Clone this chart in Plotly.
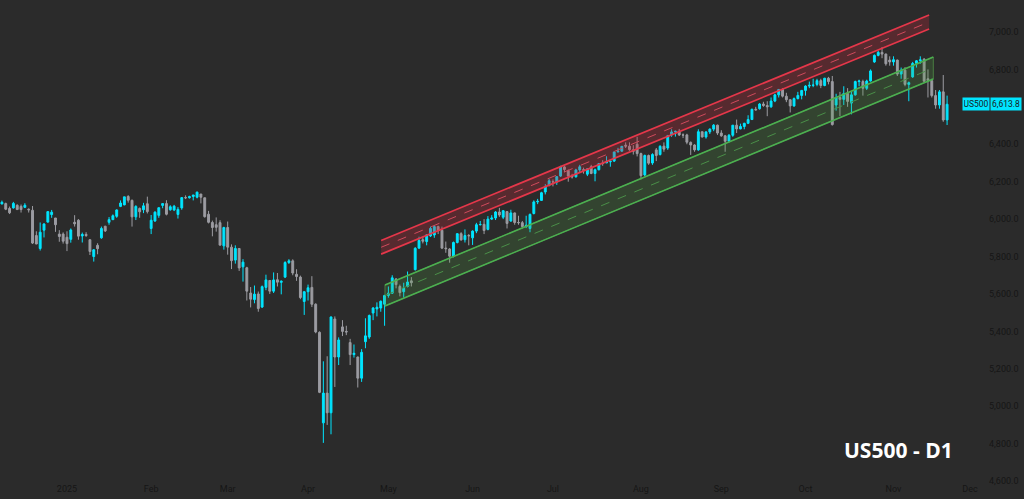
import pandas as pd
import plotly.graph_objects as go

# ---------------- data (US500 CFD, daily) ----------------
closed_days = ["2024-12-25", "2025-01-01", "2025-04-18"]
start_date, end_date = "2024-12-06", "2025-11-21"

open_ = [
    # Dec 2024
    6081, 6083, 6057, 6060, 6074, 6068, 6063, 6053, 6047, 5912, 5843, 5941, 5984, 6024, 6006, 5920, 5920,
    # Jan
    5903, 5892, 5983, 5994, 5910, 5918, 5890, 5800, 5860, 5900, 5962, 5983, 5997, 6015, 6068, 6076, 6121, 6100, 6012, 6057, 6050, 6082,
    # Feb
    5950, 5990, 6020, 6073, 6083, 6050, 6049, 6025, 6060, 6115, 6114, 6121, 6117, 6134, 6114, 6026, 5982, 5970, 5981, 5857,
    # Mar
    5955, 5850, 5781, 5843, 5745, 5740, 5605, 5570, 5600, 5530, 5635, 5672, 5615, 5676, 5662, 5690, 5768, 5777, 5705, 5690, 5560,
    # Apr
    5612, 5635, 5545, 5395, 4911, 5070, 4965, 5466, 5263, 5424, 5400, 5340, 5276, 5263, 5150, 5345, 5370, 5498, 5520, 5525, 5545,
    # May
    5592, 5604, 5680, 5640, 5612, 5640, 5670, 5730, 5845, 5890, 5880, 5910, 5915, 5960, 5940, 5845, 5840, 5800, 5875, 5922, 5890, 5912,
    # Jun
    5900, 5936, 5970, 5972, 5945, 6000, 6006, 6038, 6010, 6040, 5990, 6033, 5982, 5981, 5960, 5950, 6030, 6092, 6100, 6145, 6180,
    # Jul
    6200, 6198, 6230, 6279, 6260, 6230, 6226, 6263, 6265, 6240, 6280, 6244, 6264, 6300, 6300, 6306, 6310, 6360, 6363, 6395, 6390, 6371, 6400,
    # Aug
    6350, 6236, 6340, 6300, 6370, 6345, 6390, 6380, 6450, 6466, 6470, 6450, 6450, 6410, 6396, 6370, 6467, 6439, 6466, 6481, 6502,
    # Sep
    6460, 6445, 6416, 6448, 6502, 6482, 6495, 6512, 6532, 6587, 6590, 6615, 6607, 6600, 6631, 6664, 6693, 6657, 6638, 6605, 6644, 6661,
    # Oct
    6688, 6711, 6715, 6720, 6740, 6714, 6753, 6735, 6610, 6650, 6640, 6671, 6620, 6664, 6735, 6735, 6699, 6738, 6840, 6875, 6891, 6882, 6850,
    # Nov
    6840, 6850, 6775, 6796, 6720, 6760, 6832, 6846, 6855, 6750, 6740, 6660, 6610, 6680, 6530,
]
high = [
    6099, 6088, 6067, 6092, 6079, 6078, 6085, 6057, 6070, 5935, 5982, 5978, 6040, 6049, 6006, 5941, 5929,
    5935, 5950, 6021, 6000, 5928, 5930, 5890, 5840, 5871, 5960, 5964, 6011, 6025, 6052, 6100, 6119, 6128, 6105, 6074, 6062, 6087, 6120,
    6022, 6042, 6062, 6084, 6101, 6074, 6076, 6064, 6116, 6127, 6125, 6129, 6147, 6134, 6114, 6044, 5992, 6009, 5994, 5959,
    5987, 5865, 5860, 5845, 5786, 5745, 5637, 5645, 5613, 5645, 5703, 5674, 5715, 5712, 5672, 5775, 5786, 5785, 5732, 5698, 5615,
    5650, 5695, 5550, 5400, 5240, 5267, 5480, 5480, 5368, 5460, 5430, 5360, 5330, 5265, 5305, 5470, 5490, 5530, 5555, 5565, 5595,
    5640, 5700, 5684, 5650, 5660, 5720, 5690, 5850, 5906, 5906, 5920, 5960, 5968, 5965, 5960, 5880, 5845, 5880, 5925, 5930, 5945, 5920,
    5940, 5980, 5990, 6000, 6016, 6021, 6043, 6060, 6048, 6040, 6050, 6035, 6018, 5990, 6018, 6030, 6100, 6108, 6146, 6187, 6215,
    6212, 6230, 6285, 6285, 6265, 6242, 6269, 6290, 6275, 6272, 6290, 6270, 6300, 6315, 6336, 6310, 6360, 6381, 6390, 6410, 6410, 6395, 6440,
    6355, 6345, 6345, 6352, 6380, 6395, 6410, 6450, 6480, 6473, 6482, 6458, 6456, 6415, 6400, 6480, 6467, 6470, 6485, 6508, 6505,
    6475, 6450, 6455, 6503, 6532, 6510, 6515, 6555, 6590, 6600, 6620, 6627, 6630, 6650, 6670, 6695, 6700, 6675, 6640, 6650, 6680, 6690,
    6715, 6735, 6750, 6750, 6750, 6755, 6760, 6765, 6670, 6680, 6710, 6700, 6680, 6740, 6745, 6745, 6745, 6800, 6880, 6900, 6920, 6885, 6870,
    6870, 6852, 6810, 6812, 6735, 6840, 6850, 6870, 6860, 6800, 6750, 6690, 6690, 6770, 6660,
]
low = [
    6079, 6048, 6027, 6056, 6051, 6035, 6059, 6035, 5867, 5866, 5832, 5902, 5981, 6007, 5932, 5879, 5869,
    5829, 5874, 5960, 5890, 5875, 5905, 5808, 5773, 5812, 5895, 5931, 5970, 5995, 6007, 6064, 6074, 6088, 5960, 5995, 6007, 6032, 6030,
    5920, 5985, 6007, 6058, 6020, 6045, 6043, 6003, 6050, 6107, 6110, 6100, 6111, 6084, 6008, 5977, 5908, 5933, 5858, 5837,
    5810, 5733, 5762, 5723, 5666, 5565, 5528, 5550, 5505, 5525, 5620, 5600, 5605, 5640, 5598, 5685, 5760, 5700, 5670, 5572, 5488,
    5565, 5530, 5390, 5070, 4804, 4900, 4850, 5103, 5220, 5375, 5380, 5220, 5260, 5100, 5130, 5310, 5360, 5460, 5480, 5505, 5430,
    5580, 5600, 5630, 5587, 5580, 5635, 5640, 5725, 5840, 5870, 5860, 5905, 5900, 5920, 5840, 5820, 5767, 5795, 5870, 5885, 5875, 5860,
    5862, 5925, 5966, 5920, 5940, 5995, 5995, 6012, 6000, 5950, 5985, 5970, 5970, 5950, 5952, 5930, 6025, 6080, 6098, 6132, 6175,
    6175, 6183, 6225, 6250, 6200, 6217, 6222, 6250, 6243, 6230, 6240, 6202, 6260, 6285, 6300, 6280, 6305, 6355, 6360, 6380, 6365, 6345, 6335,
    6212, 6230, 6290, 6290, 6310, 6340, 6360, 6370, 6440, 6441, 6444, 6433, 6400, 6343, 6360, 6365, 6436, 6430, 6455, 6470, 6450,
    6440, 6360, 6410, 6440, 6460, 6480, 6480, 6508, 6530, 6580, 6585, 6600, 6550, 6595, 6625, 6650, 6650, 6625, 6570, 6600, 6640, 6640,
    6660, 6700, 6705, 6710, 6700, 6710, 6720, 6500, 6580, 6550, 6610, 6600, 6560, 6660, 6710, 6660, 6690, 6735, 6835, 6870, 6860, 6820, 6820,
    6820, 6765, 6750, 6710, 6630, 6755, 6810, 6830, 6730, 6650, 6650, 6590, 6590, 6520, 6503,
]
close = [
    6090, 6053, 6034, 6084, 6051, 6051, 6074, 6050, 5872, 5867, 5930, 5974, 6040, 6037, 5970, 5907, 5882,
    5869, 5942, 5975, 5909, 5918, 5912, 5827, 5836, 5842, 5950, 5937, 5997, 6018, 6049, 6086, 6119, 6101, 6012, 6068, 6039, 6071, 6040,
    5994, 6037, 6061, 6083, 6026, 6066, 6069, 6052, 6115, 6114, 6120, 6129, 6144, 6117, 6013, 5983, 5955, 5956, 5861, 5955,
    5850, 5778, 5843, 5739, 5770, 5615, 5572, 5599, 5522, 5639, 5675, 5615, 5675, 5663, 5668, 5768, 5777, 5712, 5693, 5581, 5612,
    5633, 5545, 5397, 5074, 5070, 4965, 5477, 5263, 5354, 5400, 5397, 5276, 5283, 5150, 5288, 5376, 5485, 5525, 5529, 5561, 5592,
    5604, 5686, 5650, 5607, 5631, 5664, 5660, 5844, 5886, 5882, 5916, 5950, 5960, 5940, 5845, 5842, 5802, 5875, 5922, 5889, 5912, 5911,
    5936, 5970, 5971, 5939, 6000, 6006, 6038, 6022, 6045, 5977, 6033, 5982, 5981, 5960, 5967, 6025, 6092, 6095, 6141, 6173, 6205,
    6198, 6227, 6279, 6265, 6230, 6226, 6263, 6280, 6260, 6269, 6244, 6264, 6297, 6297, 6306, 6309, 6359, 6363, 6389, 6390, 6371, 6362, 6350,
    6232, 6340, 6299, 6345, 6340, 6389, 6374, 6446, 6466, 6469, 6450, 6449, 6411, 6396, 6370, 6467, 6439, 6466, 6481, 6502, 6460,
    6445, 6416, 6448, 6502, 6482, 6495, 6512, 6532, 6587, 6584, 6615, 6607, 6600, 6631, 6664, 6693, 6657, 6638, 6605, 6644, 6661, 6688,
    6711, 6715, 6716, 6740, 6714, 6753, 6735, 6505, 6650, 6640, 6671, 6629, 6664, 6735, 6738, 6699, 6738, 6792, 6875, 6891, 6882, 6830, 6840,
    6852, 6775, 6796, 6720, 6729, 6832, 6846, 6851, 6737, 6740, 6660, 6610, 6680, 6530, 6613.8,
]

month_labels = ["2025", "Feb", "Mar", "Apr", "May", "Jun", "Jul", "Aug", "Sep", "Oct", "Nov", "Dec"]
# the 6,600.0 tick sits behind the price label in the reference, so it is not listed
y_ticks = [4600, 4800, 5000, 5200, 5400, 5600, 5800, 6000, 6200, 6400, 6800, 7000]

# channels (bar index, price)
red_x = [99.1, 242.3]
red_upper = [5886, 7091]
red_lower = [5813, 7016]
green_x = [100.1, 243.4]
green_upper = [5648, 6866]
green_lower = [5536, 6749]

symbol = "US500"
last_price = 6613.8
title_text = "US500 - D1"

# ---------------- build ----------------
cal = pd.bdate_range(start_date, "2025-12-31")
cal = cal[~cal.isin(pd.to_datetime(closed_days))]
dates = cal[cal <= pd.Timestamp(end_date)]
n = len(dates)
assert n == len(open_) == len(high) == len(low) == len(close), (n, len(open_), len(high), len(low), len(close))
xs = list(range(n))

tick_idx = []
for m in range(1, 13):
    pos = [i for i, d in enumerate(cal) if d.year == 2025 and d.month == m]
    tick_idx.append(pos[0])

BG = "#2b2b2b"
CYAN = "#00e5ff"
GRAY = "#9c9ca2"
AXIS_TXT = "#161616"

fig = go.Figure()

# red channel
fig.add_trace(go.Scatter(
    x=[red_x[0], red_x[1], red_x[1], red_x[0], red_x[0]],
    y=[red_upper[0], red_upper[1], red_lower[1], red_lower[0], red_upper[0]],
    mode="lines", fill="toself", fillcolor="rgba(190,40,55,0.30)",
    line=dict(width=0), hoverinfo="skip"))
for yy in (red_upper, red_lower):
    fig.add_trace(go.Scatter(x=red_x, y=yy, mode="lines",
                             line=dict(color="#e5374a", width=1.7), hoverinfo="skip"))
fig.add_trace(go.Scatter(x=red_x, y=[(a + b) / 2 for a, b in zip(red_upper, red_lower)],
                         mode="lines", line=dict(color="#cf4a5c", width=1, dash="dash"),
                         hoverinfo="skip"))

# green channel
fig.add_trace(go.Scatter(
    x=[green_x[0], green_x[1], green_x[1], green_x[0], green_x[0]],
    y=[green_upper[0], green_upper[1], green_lower[1], green_lower[0], green_upper[0]],
    mode="lines", fill="toself", fillcolor="rgba(80,160,70,0.22)",
    line=dict(width=1, color="rgba(90,170,80,0.6)"), hoverinfo="skip"))
for yy in (green_upper, green_lower):
    fig.add_trace(go.Scatter(x=green_x, y=yy, mode="lines",
                             line=dict(color="#4caf50", width=1.6), hoverinfo="skip"))
fig.add_trace(go.Scatter(x=green_x, y=[(a + b) / 2 for a, b in zip(green_upper, green_lower)],
                         mode="lines", line=dict(color="#4a8f48", width=1, dash="dash"),
                         hoverinfo="skip"))

# candles
fig.add_trace(go.Candlestick(
    x=xs, open=open_, high=high, low=low, close=close,
    increasing=dict(line=dict(color=CYAN, width=1), fillcolor=CYAN),
    decreasing=dict(line=dict(color=GRAY, width=1), fillcolor=GRAY),
    whiskerwidth=0, hoverinfo="skip"))

# price label (two adjoining boxes)
fig.add_annotation(xref="paper", yref="y", x=962 / 980, y=last_price, xanchor="left",
                   text=symbol, showarrow=False, width=24, align="center",
                   font=dict(size=8.5, color="#1a1a1a", family="Roboto"),
                   bgcolor=CYAN, borderpad=1)
fig.add_annotation(xref="paper", yref="y", x=990 / 980, y=last_price, xanchor="left",
                   text=f"{last_price:,.1f}", showarrow=False, width=28, align="center",
                   font=dict(size=8.5, color="#1a1a1a", family="Roboto"),
                   bgcolor=CYAN, borderpad=1)

# title
fig.add_annotation(xref="paper", yref="paper", x=0.917, y=0.066, xanchor="center", yanchor="middle",
                   text=f"<b>{title_text}</b>", showarrow=False,
                   font=dict(size=21, color="#ffffff", family="Open Sans"))

fig.update_layout(
    width=1024, height=499,
    margin=dict(l=0, r=44, t=0, b=17),
    paper_bgcolor=BG, plot_bgcolor=BG,
    showlegend=False, hovermode=False,
    xaxis=dict(range=[-0.5, 255.6], tickmode="array", tickvals=tick_idx, ticktext=month_labels,
               showgrid=False, zeroline=False, showline=False, ticks="",
               rangeslider=dict(visible=False),
               tickfont=dict(size=9, color=AXIS_TXT, family="Roboto")),
    yaxis=dict(range=[4595, 7171], side="right", tickmode="array", tickvals=y_ticks,
               ticktext=[f"{v:,.1f}" for v in y_ticks], ticklabelstandoff=8,
               showgrid=False, zeroline=False, showline=False, ticks="",
               tickfont=dict(size=9, color=AXIS_TXT, family="Roboto")),
)

fig.write_html("out.html", config={"displayModeBar": False},
               post_script="document.body.style.margin='0px';document.body.style.background='#2b2b2b';")
